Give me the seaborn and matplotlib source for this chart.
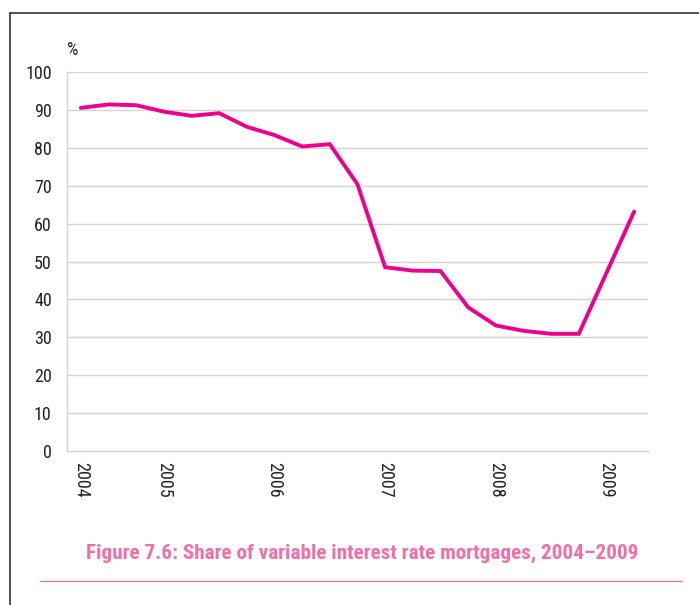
import pandas as pd
import matplotlib.pyplot as plt
import seaborn as sns
from matplotlib.lines import Line2D
from matplotlib import font_manager

# Quarterly share of variable interest rate mortgages (%)
quarters = ["2004Q1", "2004Q2", "2004Q3", "2004Q4",
            "2005Q1", "2005Q2", "2005Q3", "2005Q4",
            "2006Q1", "2006Q2", "2006Q3", "2006Q4",
            "2007Q1", "2007Q2", "2007Q3", "2007Q4",
            "2008Q1", "2008Q2", "2008Q3", "2008Q4",
            "2009Q1"]
share = [90.6, 91.5, 91.3, 89.6, 88.5, 89.2, 85.6, 83.4, 80.4, 81.0,
         70.4, 48.5, 47.6, 47.5, 37.9, 33.1, 31.7, 30.9, 30.9, 47.0, 63.2]
year_labels = ["2004", "2005", "2006", "2007", "2008", "2009"]
year_label_pos = [0, 3, 7, 11, 15, 19]

df = pd.DataFrame({"pos": range(len(quarters)), "quarter": quarters, "share": share})

sns.set_style("white")
installed = {f.name for f in font_manager.fontManager.ttflist}
narrow = next((n for n in ["Liberation Sans Narrow", "Roboto Condensed", "Open Sans Condensed"]
               if n in installed), None)
if narrow:
    plt.rcParams['font.family'] = [narrow, 'Liberation Sans', 'DejaVu Sans']
    tick_size = 13
else:
    plt.rcParams['font.family'] = ['Liberation Sans', 'DejaVu Sans']
    tick_size = 12

fig = plt.figure(figsize=(6.99, 6.05), dpi=100)
ax = fig.add_axes([0.0959, 0.2549, 0.8311, 0.6256])

sns.lineplot(data=df, x="pos", y="share", ax=ax, color="#EC008C", linewidth=2.8,
             solid_joinstyle="miter")

grid_col = "#D4D4D4"
ax.set_ylim(0, 100)
ax.set_xlim(-0.5, len(quarters) - 0.5)
ax.set_yticks(range(0, 101, 10))
for v in range(10, 101, 10):
    ax.axhline(v, color=grid_col, linewidth=1.0, zorder=0)

ax.set_xticks(year_label_pos)
ax.set_xticklabels(year_labels, rotation=270, fontsize=tick_size, color="#222222")
ax.set_xticks([i - 0.5 for i in range(len(quarters) + 1)], minor=True)
ax.tick_params(axis="x", which="major", length=0, pad=8)
ax.tick_params(axis="x", which="minor", length=5, color=grid_col, width=1)
ax.tick_params(axis="y", length=5, color=grid_col, width=1, labelsize=tick_size,
               labelcolor="#222222", pad=6)

for side in ["top", "right"]:
    ax.spines[side].set_visible(False)
for side in ["left", "bottom"]:
    ax.spines[side].set_color(grid_col)
    ax.spines[side].set_linewidth(1.0)

ax.set_xlabel("")
ax.set_ylabel("")
ax.text(0.0, 1.035, "%", transform=ax.transAxes, fontsize=tick_size, color="#222222",
        ha="left", va="bottom")

caption = "Figure 7.6: Share of variable interest rate mortgages, 2004\u20132009"
fig.text(362 / 699, 1 - 553 / 605, caption, ha="center", va="center",
         fontsize=15.2 if narrow else 13, fontweight="bold", color="#F06EAA")

# page frame and caption rule
fig.add_artist(Line2D([10 / 699, 10 / 699], [0, 1 - 13 / 605], color="#333333", linewidth=1.2))
fig.add_artist(Line2D([10 / 699, 1], [1 - 13 / 605, 1 - 13 / 605], color="#333333", linewidth=1.2))
fig.add_artist(Line2D([40 / 699, 682 / 699], [1 - 581 / 605, 1 - 581 / 605], color="#F06EAA", linewidth=0.9))

plt.savefig("out.png", dpi=100)
